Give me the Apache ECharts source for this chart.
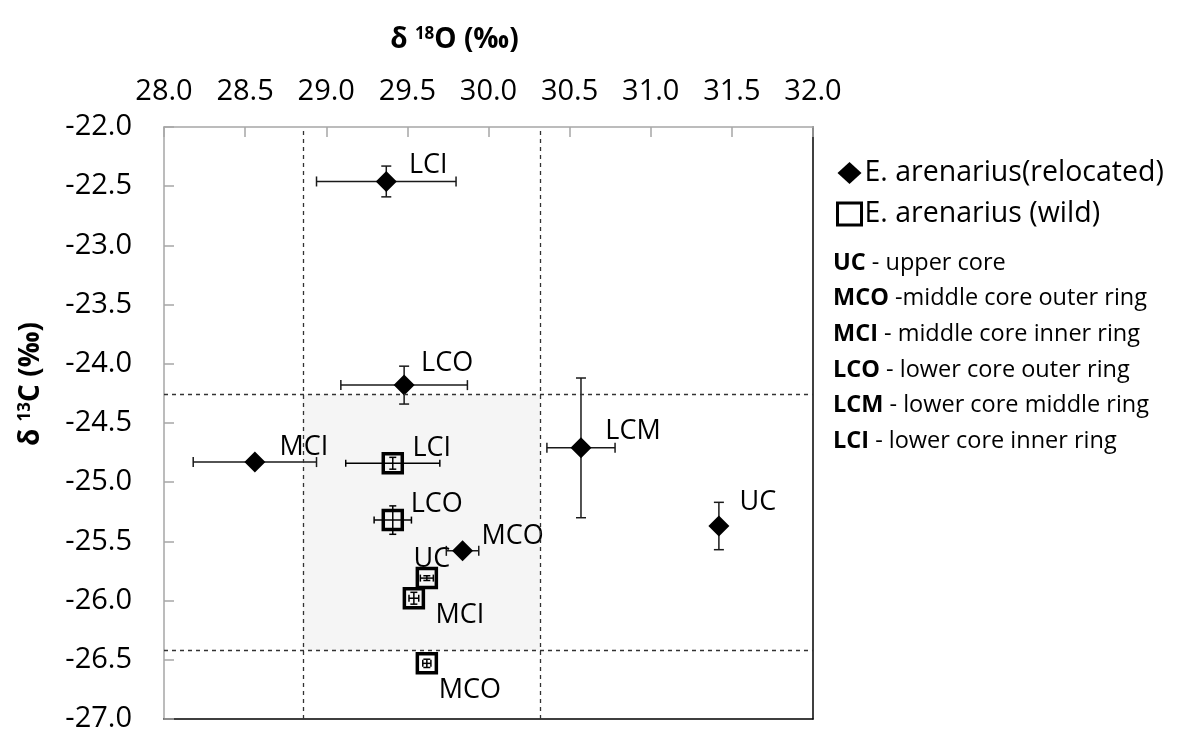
<!DOCTYPE html>
<html>
<head>
<meta charset="utf-8">
<title>d18O vs d13C</title>
<script src="https://cdn.jsdelivr.net/npm/echarts@6/dist/echarts.min.js"></script>
<style>
  html, body { margin: 0; padding: 0; background: #fff; }
  #chart { width: 1190px; height: 736px; }
</style>
</head>
<body>
<div id="chart"></div>
<script>
// axis ranges
const xMin = 28.0, xMax = 32.0, yMin = -27.0, yMax = -22.0, tickStep = 0.5;

// relocated E. arenarius (diamonds)
const relNames = ['LCI', 'LCO', 'MCI', 'LCM', 'UC', 'MCO'];
const relX     = [29.37, 29.48, 28.56, 30.57, 31.42, 29.84];
const relY     = [-22.46, -24.18, -24.83, -24.71, -25.37, -25.58];
const relXErr  = [0.43, 0.39, 0.38, 0.21, 0.0, 0.10];
const relYErr  = [0.13, 0.16, 0.0, 0.59, 0.20, 0.0];

// wild E. arenarius (squares)
const wildNames = ['LCI', 'LCO', 'UC', 'MCI', 'MCO'];
const wildX     = [29.41, 29.41, 29.62, 29.54, 29.62];
const wildY     = [-24.84, -25.32, -25.81, -25.98, -26.53];
const wildXErr  = [0.29, 0.115, 0.04, 0.03, 0.025];
const wildYErr  = [0.05, 0.12, 0.02, 0.05, 0.035];

// dashed reference lines (wild range)
const refX = [28.856, 30.317];
const refY = [-24.26, -26.42];

// legend text
const seriesNames = ['E. arenarius(relocated)', 'E. arenarius (wild)'];
const abbrevs = [
  ['UC', ' - upper core'],
  ['MCO', ' -middle core outer ring'],
  ['MCI', ' - middle core inner ring'],
  ['LCO', ' - lower core outer ring'],
  ['LCM', ' - lower core middle ring'],
  ['LCI', ' - lower core inner ring']
];

// label offsets in px (where each name sits next to its point)
const relLabelOffset = {
  LCI: [42, -16], LCO: [43, -22], MCI: [49, -15],
  LCM: [52, -17], UC: [39, -24], MCO: [50, -15]
};
const wildLabelOffset = {
  LCI: [39, -15], LCO: [44, -16], UC: [5, -19], MCI: [46, 17], MCO: [43, 27]
};

const FONT = '"Open Sans", "Noto Sans", sans-serif';

const chart = echarts.init(document.getElementById('chart'));

function errorSeries(xs, ys, exs, eys, color, cap) {
  const data = xs.map((x, i) => [x, ys[i], exs[i], eys[i]]);
  return {
    type: 'custom',
    silent: true,
    z: 3,
    data: data,
    encode: { x: 0, y: 1 },
    renderItem: function (params, api) {
      const x = api.value(0), y = api.value(1);
      const ex = api.value(2), ey = api.value(3);
      const c = api.coord([x, y]);
      const style = { stroke: color, lineWidth: 1.5 };
      const kids = [];
      if (ex > 0) {
        const l = api.coord([x - ex, y])[0], r = api.coord([x + ex, y])[0];
        kids.push({ type: 'line', shape: { x1: l, y1: c[1], x2: r, y2: c[1] }, style: style });
        kids.push({ type: 'line', shape: { x1: l, y1: c[1] - cap, x2: l, y2: c[1] + cap }, style: style });
        kids.push({ type: 'line', shape: { x1: r, y1: c[1] - cap, x2: r, y2: c[1] + cap }, style: style });
      }
      if (ey > 0) {
        const t = api.coord([x, y + ey])[1], b = api.coord([x, y - ey])[1];
        kids.push({ type: 'line', shape: { x1: c[0], y1: t, x2: c[0], y2: b }, style: style });
        kids.push({ type: 'line', shape: { x1: c[0] - cap, y1: t, x2: c[0] + cap, y2: t }, style: style });
        kids.push({ type: 'line', shape: { x1: c[0] - cap, y1: b, x2: c[0] + cap, y2: b }, style: style });
      }
      return { type: 'group', children: kids };
    }
  };
}

function pointData(names, xs, ys, offsets) {
  return names.map((n, i) => ({
    name: n,
    value: [xs[i], ys[i]],
    label: { offset: offsets[n] }
  }));
}

const pointLabel = {
  show: true,
  position: 'inside',
  formatter: '{b}',
  color: '#000',
  fontFamily: FONT,
  fontSize: 27
};

const rich = {
  sup: { fontSize: 17, fontWeight: 'bold', fontFamily: FONT, color: '#000', verticalAlign: 'top', padding: [0, 0, 12, 0] },
  n: { fontSize: 28, fontWeight: 'bold', fontFamily: FONT, color: '#000' }
};

const option = {
  backgroundColor: '#fff',
  animation: false,
  grid: { left: 164, right: 377, top: 127, bottom: 17 },
  legend: {
    orient: 'vertical',
    left: 831,
    top: 151,
    itemWidth: 24,
    itemHeight: 22,
    itemGap: 7,
    data: [
      { name: seriesNames[0], icon: 'diamond' },
      { name: seriesNames[1], icon: 'rect', itemStyle: { borderWidth: 3 } }
    ],
    textStyle: { fontFamily: FONT, fontSize: 28.5, color: '#000', lineHeight: 34, padding: [0, 0, 0, -2] }
  },
  xAxis: [
    {
      type: 'value',
      position: 'top',
      min: xMin, max: xMax, interval: tickStep,
      name: '{n|δ }{sup|18}{n|O (‰)}',
      nameLocation: 'middle',
      nameGap: 72,
      nameTextStyle: { rich: rich, padding: [0, 68, 0, 0] },
      axisLine: { show: true, lineStyle: { color: '#a6a6a6', width: 1.5 } },
      axisTick: { show: true, inside: true, length: 10, lineStyle: { color: '#a6a6a6', width: 1.5 } },
      axisLabel: {
        margin: 21, color: '#000', fontFamily: FONT, fontSize: 29,
        formatter: v => v.toFixed(1)
      },
      splitLine: { show: false }
    },
    {
      type: 'value',
      position: 'bottom',
      min: xMin, max: xMax,
      axisLine: { show: true, lineStyle: { color: '#000', width: 1.5 } },
      axisTick: { show: false },
      axisLabel: { show: false },
      splitLine: { show: false }
    }
  ],
  yAxis: [
    {
      type: 'value',
      min: yMin, max: yMax, interval: tickStep,
      name: '{n|δ }{sup|13}{n|C (‰)}',
      nameLocation: 'middle',
      nameRotate: 90,
      nameGap: 118,
      nameTextStyle: { rich: rich, padding: [0, 0, 0, 78] },
      axisLine: { show: true, lineStyle: { color: '#a6a6a6', width: 1.5 } },
      axisTick: { show: true, inside: true, length: 10, lineStyle: { color: '#a6a6a6', width: 1.5 } },
      axisLabel: {
        margin: 32, color: '#000', fontFamily: FONT, fontSize: 29,
        formatter: v => v.toFixed(1)
      },
      splitLine: { show: false }
    },
    {
      type: 'value',
      position: 'right',
      min: yMin, max: yMax,
      axisLine: { show: true, lineStyle: { color: '#000', width: 1.5 } },
      axisTick: { show: false },
      axisLabel: { show: false },
      splitLine: { show: false }
    }
  ],
  series: [
    errorSeries(relX, relY, relXErr, relYErr, '#1a1a1a', 5),
    errorSeries(wildX, wildY, wildXErr, wildYErr, '#000', 3.5),
    {
      name: seriesNames[0],
      type: 'scatter',
      z: 4,
      symbol: 'diamond',
      symbolSize: [21, 21],
      itemStyle: { color: '#000', opacity: 1 },
      label: pointLabel,
      emphasis: { disabled: true },
      data: pointData(relNames, relX, relY, relLabelOffset)
    },
    {
      name: seriesNames[1],
      type: 'scatter',
      z: 4,
      symbol: 'rect',
      symbolSize: 19,
      itemStyle: { color: 'rgba(0,0,0,0)', borderColor: '#000', borderWidth: 3.5, opacity: 1 },
      label: pointLabel,
      emphasis: { disabled: true },
      data: pointData(wildNames, wildX, wildY, wildLabelOffset)
    },
    {
      // translucent box over the wild range
      name: 'range',
      type: 'scatter',
      z: 10,
      silent: true,
      data: [],
      markArea: {
        silent: true,
        itemStyle: { color: 'rgba(220,220,220,0.29)' },
        data: [[{ coord: [refX[0], refY[0]] }, { coord: [refX[1], refY[1]] }]]
      }
    },
    {
      name: 'refs',
      type: 'scatter',
      z: 11,
      silent: true,
      data: [],
      markLine: {
        silent: true,
        symbol: 'none',
        label: { show: false },
        lineStyle: { color: '#333', type: [4, 4], width: 1.3 },
        data: refX.map(v => ({ xAxis: v })).concat(refY.map(v => ({ yAxis: v })))
      }
    }
  ],
  graphic: abbrevs.map((a, i) => ({
    type: 'text',
    left: 833,
    top: 263 + i * 35.7 - 13,
    style: {
      text: '{b|' + a[0] + '}' + a[1],
      fontFamily: FONT,
      fontSize: 23.5,
      lineHeight: 26,
      fill: '#000',
      rich: { b: { fontFamily: FONT, fontSize: 23.5, lineHeight: 26, fontWeight: 'bold', fill: '#000' } }
    }
  }))
};

chart.setOption(option);
</script>
</body>
</html>
